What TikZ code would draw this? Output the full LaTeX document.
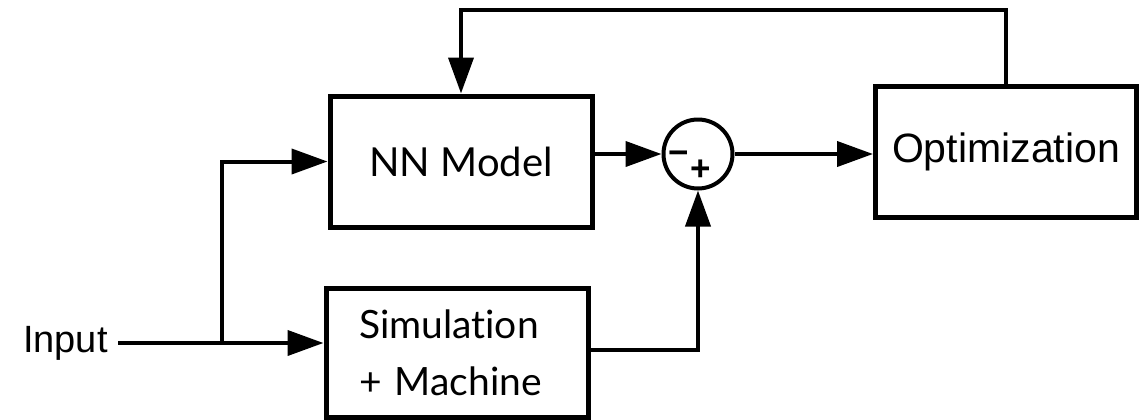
\documentclass[tikz,border=0pt]{standalone}
\usepackage{fontspec}
\setmainfont{Liberation Sans}
\newfontfamily\gillfont[Ligatures={NoCommon}]{Lato}
\newfontfamily\arialfont{Liberation Sans}
\usetikzlibrary{arrows.meta,calc}
\begin{document}
\begin{tikzpicture}[x=0.5pt,y=-0.5pt,
  blockbox/.style={draw,line width=2.5pt,rectangle,inner sep=0pt},
  arr/.style={line width=2pt,-{Triangle[length=18pt,width=12.5pt]}},
  sign/.style={inner sep=0pt,anchor=base,font=\arialfont\bfseries\fontsize{17.5}{18}\selectfont},
]
\useasboundingbox (0,0) rectangle (1148,419);
% blocks
\node[blockbox,minimum width=131pt,minimum height=65.5pt,
  font=\gillfont\fontsize{20}{24}\selectfont] (nn) at (461,161.5) {NN Model};
\node[blockbox,minimum width=130.5pt,minimum height=65.5pt,
  font=\arialfont\fontsize{20.5}{24}\selectfont] (opt) at (1006,152) {Optimization};
\node[blockbox,minimum height=64.5pt,inner xsep=16.5pt,text width=98pt,align=left,
  font=\gillfont\fontsize{19.5}{28.5}\selectfont] (sim) at (457,352.5)
  {Simulation\\+ Machine};
\node[draw,circle,line width=2pt,minimum size=34.5pt,inner sep=0pt] (sum) at (698,154) {};
\node[sign] (minus) at (679,164) {−};
\node[sign] (plus) at (701,180) {+};
% input
\node[inner xsep=5pt,inner ysep=0pt,anchor=east,font=\arialfont\fontsize{19}{22}\selectfont] (in) at (118,343) {Input};
\coordinate (br) at (222,343);
% connectors
\draw[arr] (in.east) -- (in.east -| sim.west);
\draw[arr] (br) |- (nn.west);
\draw[arr] (sum.west -| nn.east) -- (sum.west);
\draw[arr] (sum.east) -- (sum.east -| opt.west);
\draw[arr] ($(sim.east)+(0,-2.5)$) -| (sum.south);
\draw[arr] (opt.north) -- ++(0,-74) -| (nn.north);
\end{tikzpicture}
\end{document}
